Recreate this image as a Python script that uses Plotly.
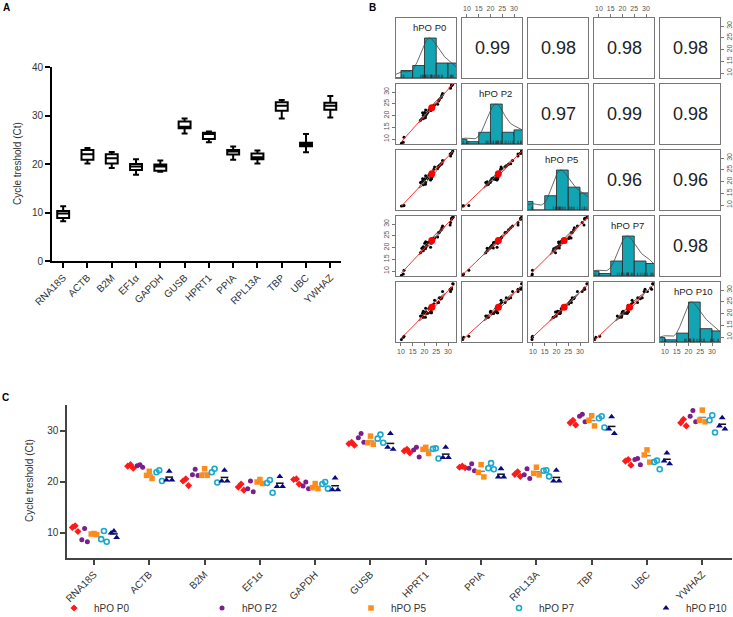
import numpy as np
import plotly.graph_objects as go

# ---------------- data ----------------
genes = ["RNA18S", "ACTB", "B2M", "EF1α", "GAPDH", "GUSB",
         "HPRT1", "PPIA", "RPL13A", "TBP", "UBC", "YWHAZ"]
passages = ["hPO P0", "hPO P2", "hPO P5", "hPO P7", "hPO P10"]

# Ct values, 3 donors per gene, one list per passage
ct_p0 = [[11.3, 11.0, 10.2], [23.3, 23.0, 22.6], [20.5, 20.1, 19.2], [19.5, 18.9, 18.3],
         [20.5, 20.4, 19.5], [27.7, 27.4, 27.1], [26.3, 26.0, 25.6], [23.0, 22.8, 22.7],
         [21.9, 21.4, 21.0], [32.0, 31.5, 31.1], [24.3, 24.0, 23.2], [32.2, 31.5, 30.9]]
ct_p2 = [[10.8, 8.6, 8.2], [23.3, 23.1, 22.8], [22.4, 21.3, 21.2], [20.1, 18.6, 18.0],
         [19.9, 19.1, 18.6], [29.4, 28.6, 27.7], [26.7, 26.2, 24.8], [23.5, 22.6, 22.1],
         [22.5, 21.3, 20.6], [33.2, 32.8, 31.7], [24.5, 24.3, 23.3], [33.9, 32.8, 31.7]]
ct_p5 = [[9.8, 9.7, 9.6], [22.0, 21.2, 20.6], [22.5, 21.2, 21.2], [20.4, 19.9, 19.6],
         [19.6, 18.8, 18.6], [28.9, 27.6, 27.3], [26.7, 26.3, 25.5], [23.3, 21.8, 20.9],
         [22.8, 21.6, 21.3], [32.9, 32.0, 30.9], [26.2, 25.2, 23.8], [34.0, 32.0, 31.7]]
ct_p7 = [[10.3, 8.7, 8.2], [22.2, 21.8, 20.1], [22.5, 21.8, 19.8], [20.3, 19.7, 17.8],
         [19.9, 19.5, 18.6], [29.2, 28.4, 27.6], [26.5, 26.4, 24.5], [23.6, 22.6, 22.4],
         [22.2, 22.1, 21.0], [32.8, 32.4, 30.6], [24.1, 23.8, 22.4], [33.0, 32.0, 29.6]]
ct_p10 = [[10.3, 9.9, 9.0], [22.0, 20.3, 20.3], [22.2, 20.1, 20.1], [21.0, 19.0, 19.0],
          [20.7, 18.4, 18.4], [29.4, 26.7, 26.3], [26.7, 24.7, 24.7], [22.5, 20.9, 20.9],
          [22.2, 20.1, 20.1], [32.7, 30.3, 29.4], [25.6, 24.0, 23.5], [32.5, 30.9, 30.3]]

# correlation coefficients shown in the upper panels (row-wise)
corr_text = ["0.99", "0.98", "0.98", "0.98", "0.97", "0.99", "0.98", "0.96", "0.96", "0.98"]

ticks_a = [0, 10, 20, 30, 40]
ticks_c = [10, 20, 30]
ticks_pairs = [10, 15, 20, 25, 30]
hist_breaks = [5, 10, 15, 20, 25, 30, 35]

# ---------------- styling ----------------
W, H = 733, 617
FONT = "Arial, 'Liberation Sans', sans-serif"
TXT = "#333333"
colors = ["#ff1a1a", "#7a1f8c", "#ff8c1a", "#1aa8cc", "#0a0a80"]
symbols = ["diamond", "circle", "square", "circle-open", "triangle-up"]
sizes = [5.5, 5, 5.5, 5, 6]
group_off = [-0.34, -0.17, 0.0, 0.18, 0.36]
spread = [0.0, -0.05, 0.05]
mean_line_color = [None, None, "#888888", None, "#111111"]
HIST_COL = "#13a4b4"
PAIR_LINE = "#777777"


def xdom(l, r):
    return [l / W, r / W]


def ydom(t, b):
    return [1 - b / H, 1 - t / H]


def pann(text, px, py, size=10, color=TXT, angle=0, xanchor="center", bold=False):
    return dict(text=f"<b>{text}</b>" if bold else text, x=px / W, y=1 - py / H,
                xref="paper", yref="paper", xanchor=xanchor, yanchor="middle",
                textangle=angle, showarrow=False, font=dict(size=size, color=color))


groups = [np.array(g, dtype=float) for g in (ct_p0, ct_p2, ct_p5, ct_p7, ct_p10)]
pos = list(range(len(genes)))

fig = go.Figure()
lay = dict(width=W, height=H, margin=dict(l=0, r=0, t=0, b=0, autoexpand=False),
           plot_bgcolor="white", paper_bgcolor="white",
           font=dict(family=FONT, size=10, color=TXT), showlegend=True)
ann = []

# ---------------- Panel A : box plot ----------------
allv = np.concatenate(groups, axis=1)
fig.add_trace(go.Box(
    x=pos, q1=np.percentile(allv, 25, axis=1), median=np.median(allv, axis=1),
    q3=np.percentile(allv, 75, axis=1), lowerfence=allv.min(axis=1),
    upperfence=allv.max(axis=1), fillcolor="white",
    line=dict(color="black", width=2), whiskerwidth=0.5,
    xaxis="x", yaxis="y", showlegend=False, hoverinfo="skip"))

lay["xaxis"] = dict(domain=xdom(52, 341), range=[-0.46, 11.44], anchor="y",
                    tickvals=pos, ticktext=genes, tickangle=-45, ticks="outside",
                    ticklen=5, tickwidth=2, tickcolor="black", showline=True,
                    linecolor="black", linewidth=2, showgrid=False, zeroline=False,
                    tickfont=dict(size=10, color=TXT), automargin=False)
lay["yaxis"] = dict(domain=ydom(67, 261), range=[0, 40], anchor="x",
                    tickvals=ticks_a, ticks="outside", ticklen=5, tickwidth=2,
                    tickcolor="black", showline=True, linecolor="black", linewidth=2,
                    showgrid=False, zeroline=False, tickfont=dict(size=10, color=TXT),
                    automargin=False)
ann.append(pann("Cycle treshold (Ct)", 17, 164, angle=-90))
ann.append(pann("A", 6, 7, color="black", bold=True))

# ---------------- Panel C : dot plot ----------------
for g in range(5):
    xs, ys = [], []
    mx, my = [], []
    for gi in pos:
        v = groups[g][gi]
        order = np.argsort(-v, kind="stable")
        for rank, j in enumerate(order):
            xs.append(gi + group_off[g] + spread[rank])
            ys.append(v[j])
        if mean_line_color[g]:
            m = v.mean()
            mx += [gi + group_off[g] - 0.07, gi + group_off[g] + 0.07, None]
            my += [m, m, None]
    if mean_line_color[g]:
        fig.add_trace(go.Scatter(x=mx, y=my, mode="lines", xaxis="x2", yaxis="y2",
                                 line=dict(color=mean_line_color[g], width=1.5),
                                 showlegend=False, hoverinfo="skip"))
    mk = dict(color=colors[g], symbol=symbols[g], size=sizes[g])
    if symbols[g] == "circle-open":
        mk["line"] = dict(width=1.6, color=colors[g])
    fig.add_trace(go.Scatter(x=xs, y=ys, mode="markers", xaxis="x2", yaxis="y2",
                             marker=mk, name=passages[g],
                             legend="legend" if g == 0 else f"legend{g + 1}"))

lay["xaxis2"] = dict(domain=xdom(67, 732), range=[-0.488, 11.537], anchor="y2",
                     tickvals=pos, ticktext=genes, tickangle=-45, ticks="outside",
                     ticklen=5, tickwidth=1.5, tickcolor="#444", showline=True,
                     linecolor="#444", linewidth=1.5, showgrid=False, zeroline=False,
                     tickfont=dict(size=10, color=TXT), automargin=False)
lay["yaxis2"] = dict(domain=ydom(405, 558), range=[5, 35], anchor="x2",
                     tickvals=ticks_c, ticks="outside", ticklen=5, tickwidth=1.5,
                     tickcolor="#444", showline=True, linecolor="#444", linewidth=1.5,
                     showgrid=False, zeroline=False, tickfont=dict(size=10, color=TXT),
                     automargin=False)
ann.append(pann("Cycle treshold (Ct)", 30, 481, angle=-90))
ann.append(pann("C", 5, 397, color="black", bold=True))

leg_marker_x = [74, 222, 371, 519, 666]
for g in range(5):
    key = "legend" if g == 0 else f"legend{g + 1}"
    lay[key] = dict(x=(leg_marker_x[g] - 20) / W, y=1 - 608 / H, xanchor="left",
                    yanchor="middle", orientation="h", bgcolor="rgba(0,0,0,0)",
                    borderwidth=0, font=dict(size=10, color=TXT), itemwidth=30)

# ---------------- Panel B : pairs plot ----------------
lo, hi = 7.9, 33.4
vals = [g.flatten() for g in groups]
breaks = np.array(hist_breaks, dtype=float)
grid = np.linspace(lo, hi, 200)
ci = 0
for r in range(5):
    for c in range(5):
        k = 3 + r * 5 + c
        xa, ya = f"x{k}", f"y{k}"
        xl, xr = 396 + 66 * c, 456 + 66 * c
        yt, yb = 18 + 66 * r, 78 + 66 * r
        xax = dict(domain=xdom(xl, xr), range=[lo, hi], anchor=ya, showline=True,
                   mirror=True, linecolor=PAIR_LINE, linewidth=1, showgrid=False,
                   zeroline=False, showticklabels=False, ticks="", fixedrange=True,
                   tickvals=ticks_pairs, tickfont=dict(size=7, color="#555"),
                   ticklen=3, tickcolor=PAIR_LINE, automargin=False)
        yax = dict(domain=ydom(yt, yb), range=[lo, hi], anchor=xa, showline=True,
                   mirror=True, linecolor=PAIR_LINE, linewidth=1, showgrid=False,
                   zeroline=False, showticklabels=False, ticks="", fixedrange=True,
                   tickvals=ticks_pairs, tickfont=dict(size=7, color="#555"),
                   ticklen=3, tickcolor=PAIR_LINE, tickangle=-90, automargin=False)
        if r == 0 and c in (1, 3):
            xax.update(side="top", ticks="outside", showticklabels=True)
        if r == 4 and c in (0, 2, 4):
            xax.update(side="bottom", ticks="outside", showticklabels=True)
        if c == 0 and r in (1, 3):
            yax.update(side="left", ticks="outside", showticklabels=True)
        if c == 4 and r in (0, 2):
            yax.update(side="right", ticks="outside", showticklabels=True)

        if r == c:
            v = vals[r]
            idx = np.clip(np.searchsorted(breaks, v, side="left") - 1, 0, len(breaks) - 2)
            counts = np.bincount(idx, minlength=len(breaks) - 1).astype(float)
            mids = (breaks[:-1] + breaks[1:]) / 2
            fig.add_trace(go.Bar(x=mids, y=counts / counts.max(), width=5,
                                 marker=dict(color=HIST_COL, line=dict(color="#222", width=0.8)),
                                 xaxis=xa, yaxis=ya, showlegend=False, hoverinfo="skip"))
            # density (bw.nrd * 1.2)
            sd = v.std(ddof=1)
            iqr = np.subtract(*np.percentile(v, [75, 25]))
            bw = 1.06 * min(sd, iqr / 1.34) * len(v) ** (-0.2) * 1.2
            dens = np.exp(-0.5 * ((grid[:, None] - v[None, :]) / bw) ** 2).sum(axis=1)
            fig.add_trace(go.Scatter(x=grid, y=dens / dens.max(), mode="lines",
                                     line=dict(color="#444", width=0.8),
                                     xaxis=xa, yaxis=ya, showlegend=False, hoverinfo="skip"))
            fig.add_trace(go.Scatter(x=v, y=np.full(len(v), 0.03), mode="markers",
                                     marker=dict(symbol="line-ns", size=3,
                                                 line=dict(color="#333", width=0.5)),
                                     xaxis=xa, yaxis=ya, showlegend=False, hoverinfo="skip"))
            yax["range"] = [0, 1.5]
            if c == 4:
                yax.update(showticklabels=False, ticks="")
                lay["yaxis28"] = dict(overlaying=ya, anchor=xa, side="right", range=[lo, hi],
                                      showgrid=False, zeroline=False, showline=False,
                                      ticks="outside", ticklen=3, tickcolor=PAIR_LINE,
                                      tickvals=ticks_pairs, tickangle=-90,
                                      tickfont=dict(size=7, color="#555"), fixedrange=True,
                                      automargin=False)
                fig.add_trace(go.Scatter(x=[None], y=[None], xaxis=xa, yaxis="y28",
                                         showlegend=False, hoverinfo="skip"))
            ann.append(dict(text=passages[r], x=0.56, y=0.835, xref=f"{xa} domain",
                            yref=f"{ya} domain", xanchor="center", yanchor="middle",
                            showarrow=False, font=dict(size=9.5, color="#222")))
        elif c > r:
            fig.add_trace(go.Scatter(x=[None], y=[None], xaxis=xa, yaxis=ya,
                                     showlegend=False, hoverinfo="skip"))
            ann.append(dict(text=corr_text[ci], x=0.5, y=0.5, xref=f"{xa} domain",
                            yref=f"{ya} domain", xanchor="center", yanchor="middle",
                            showarrow=False, font=dict(size=18, color="#222")))
            ci += 1
        else:
            xv, yv = vals[c], vals[r]
            slope, inter = np.polyfit(xv, yv, 1)
            lx = np.array([xv.min(), xv.max()])
            mxv, myv = xv.mean(), yv.mean()
            sx, sy = xv.std(ddof=1), yv.std(ddof=1)
            rr = np.corrcoef(xv, yv)[0, 1]
            th = np.linspace(0, 2 * np.pi, 52)
            t = 1 / np.sqrt(2)
            ex = (np.cos(th) * np.sqrt(1 + rr) * t - np.sin(th) * np.sqrt(1 - rr) * t) * sx + mxv
            ey = (np.cos(th) * np.sqrt(1 + rr) * t + np.sin(th) * np.sqrt(1 - rr) * t) * sy + myv
            fig.add_trace(go.Scatter(x=xv, y=yv, mode="markers",
                                     marker=dict(color="black", size=3),
                                     xaxis=xa, yaxis=ya, showlegend=False, hoverinfo="skip"))
            fig.add_trace(go.Scatter(x=ex, y=ey, mode="lines",
                                     line=dict(color="#333", width=0.8),
                                     xaxis=xa, yaxis=ya, showlegend=False, hoverinfo="skip"))
            fig.add_trace(go.Scatter(x=lx, y=inter + slope * lx, mode="lines",
                                     line=dict(color="#ff3030", width=1),
                                     xaxis=xa, yaxis=ya, showlegend=False, hoverinfo="skip"))
            fig.add_trace(go.Scatter(x=[mxv], y=[myv], mode="markers",
                                     marker=dict(color="#ff0000", size=7),
                                     xaxis=xa, yaxis=ya, showlegend=False, hoverinfo="skip"))
        lay[f"xaxis{k}"] = xax
        lay[f"yaxis{k}"] = yax

ann.append(pann("B", 372, 7, color="black", bold=True))

lay["annotations"] = ann
fig.update_layout(**lay)
fig.write_html("out.html", config={"displayModeBar": False})

# remove the browser's default page margin so the figure fills the window exactly
with open("out.html", encoding="utf-8") as f:
    html = f.read()
html = html.replace("<head>", "<head><style>html,body{margin:0;padding:0;overflow:hidden;}</style>", 1)
with open("out.html", "w", encoding="utf-8") as f:
    f.write(html)
